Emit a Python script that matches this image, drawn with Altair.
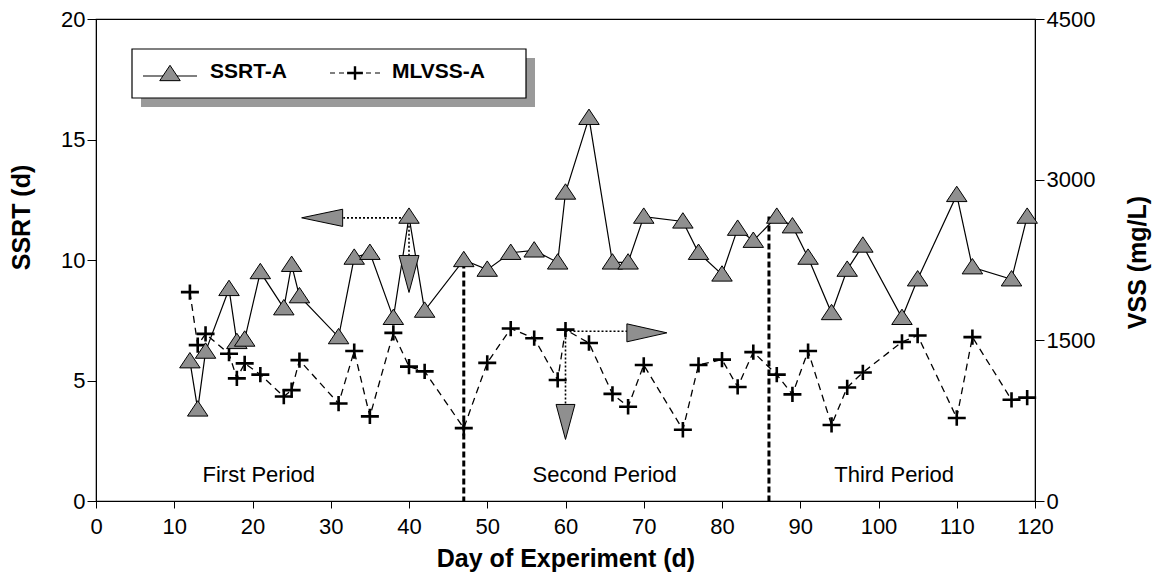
import altair as alt
import pandas as pd

# ---------------- data ----------------
days = [12, 13, 14, 17, 18, 19, 21, 24, 25, 26, 31, 33, 35, 38, 40, 42,
        47, 50, 53, 56, 59, 60, 63, 66, 68, 70, 75, 77, 80, 82, 84,
        87, 89, 91, 94, 96, 98, 103, 105, 110, 112, 117, 119]
ssrt = [5.8, 3.8, 6.2, 8.8, 6.6, 6.7, 9.5, 8.0, 9.8, 8.5, 6.8, 10.1, 10.3, 7.6, 11.8, 7.9,
        10.0, 9.6, 10.3, 10.4, 9.9, 12.8, 15.9, 9.9, 9.9, 11.8, 11.6, 10.3, 9.4, 11.3, 10.8,
        11.8, 11.4, 10.1, 7.8, 9.6, 10.6, 7.6, 9.2, 12.7, 9.7, 9.2, 11.8]
mlvss = [1950, 1455, 1560, 1375, 1145, 1285, 1180, 975, 1035, 1315, 910, 1400, 790, 1570, 1255, 1210,
         680, 1290, 1610, 1520, 1130, 1600, 1475, 1000, 880, 1270, 665, 1270, 1320, 1065, 1390,
         1180, 995, 1400, 710, 1060, 1200, 1485, 1545, 775, 1530, 945, 965]

period_labels = ["First Period", "Second Period", "Third Period"]
period_day = [20.8, 65.0, 102.0]
period_ssrt = [0.8, 0.8, 0.8]

divider_day = [47, 86]
divider_top = [9.9, 11.8]

# dotted arrow guides (SSRT scale)
guide_s_x1 = [40, 40]
guide_s_x2 = [31.6, 40]
guide_s_y1 = [11.75, 11.75]
guide_s_y2 = [11.75, 10.2]
# dotted arrow guides (VSS scale)
guide_v_x1 = [60, 60]
guide_v_x2 = [67.9, 60]
guide_v_y1 = [1585, 1600]
guide_v_y2 = [1585, 900]

# arrow heads
head_s_day = [28.9, 40]
head_s_val = [11.75, 9.42]
head_s_dir = ["left", "down"]
head_v_day = [70.4, 60]
head_v_val = [1570, 738]
head_v_dir = ["right", "down"]

FONT = "Liberation Sans"
TRI_FILL = "#8f8f8f"

df = pd.DataFrame({"day": days, "ssrt": ssrt, "vss": mlvss})
df_period = pd.DataFrame({"day": period_day, "ssrt": period_ssrt, "label": period_labels})
df_div = pd.DataFrame({"day": divider_day, "top": divider_top, "bottom": [0, 0]})
df_gs = pd.DataFrame({"day": guide_s_x1, "day2": guide_s_x2, "ssrt": guide_s_y1, "ssrt2": guide_s_y2})
df_gv = pd.DataFrame({"day": guide_v_x1, "day2": guide_v_x2, "vss": guide_v_y1, "vss2": guide_v_y2})
df_hs = pd.DataFrame({"day": head_s_day, "ssrt": head_s_val, "dir": head_s_dir})
df_hv = pd.DataFrame({"day": head_v_day, "vss": head_v_val, "dir": head_v_dir})
one = pd.DataFrame({"k": [0]})

xscale = alt.Scale(domain=[0, 120], nice=False, zero=False)
xaxis = alt.Axis(values=list(range(0, 121, 10)), title="Day of Experiment (d)", grid=False,
                 labelFont=FONT, labelFontSize=22, labelColor="black", labelPadding=8,
                 titleFont=FONT, titleFontSize=25, titleFontWeight="bold", titleColor="black",
                 titleY=65, titleBaseline="alphabetic", format="d",
                 tickSize=7, tickColor="black", domainColor="black",
                 labelFlush=False, labelOverlap=False)
sscale = alt.Scale(domain=[0, 20], nice=False, zero=True)
saxis = alt.Axis(values=[0, 5, 10, 15, 20], title="SSRT (d)", orient="left", grid=False,
                 labelFont=FONT, labelFontSize=22, labelColor="black", labelPadding=2,
                 titleFont=FONT, titleFontSize=25, titleFontWeight="bold", titleColor="black",
                 titleX=-75, titleY=198, titleBaseline="middle", format="d",
                 tickSize=9, tickColor="black", domainColor="black")
vscale = alt.Scale(domain=[0, 4500], nice=False, zero=True)
vaxis = alt.Axis(values=[0, 1500, 3000, 4500], title="VSS (mg/L)", orient="right", grid=False,
                 labelFont=FONT, labelFontSize=22, labelColor="black", labelPadding=2,
                 titleFont=FONT, titleFontSize=25, titleFontWeight="bold", titleColor="black",
                 titleAngle=270, titleX=102, titleY=243, titleBaseline="middle", format="d",
                 tickSize=9, tickColor="black", domainColor="black")

X = alt.X("day:Q", scale=xscale, axis=xaxis)
YS = alt.Y("ssrt:Q", scale=sscale, axis=None)
YV = alt.Y("vss:Q", scale=vscale, axis=None)

TRI = "M0,-0.85L1,0.65L-1,0.65Z"
CROSS = "M-1,0L1,0M0,-0.85L0,0.85"
DOWN = "M-0.54,-1L0.54,-1L0,1Z"

# ---------- VSS layers ----------
vss_line = alt.Chart(df).mark_line(color="black", strokeWidth=1.3, strokeDash=[7, 5]).encode(
    x=X, y=alt.Y("vss:Q", scale=vscale, axis=vaxis))
vss_pts = alt.Chart(df).mark_point(shape=CROSS, size=324, filled=False, color="black",
                                   strokeWidth=2.6, opacity=1).encode(x=X, y=YV)
vss_guides = alt.Chart(df_gv).mark_rule(color="black", strokeWidth=1.6, strokeDash=[2, 2]).encode(
    x=X, x2="day2:Q", y=YV, y2="vss2:Q")
vss_right = alt.Chart(df_hv[df_hv["dir"] == "right"]).mark_point(
    shape="M1,0L-1,-0.45L-1,0.45Z", size=1600, filled=True, fill=TRI_FILL, stroke="black",
    strokeWidth=1, opacity=1).encode(x=X, y=YV)
vss_down = alt.Chart(df_hv[df_hv["dir"] == "down"]).mark_point(
    shape=DOWN, size=1225, filled=True, fill=TRI_FILL, stroke="black",
    strokeWidth=1, opacity=1).encode(x=X, y=YV)

# ---------- SSRT layers ----------
s_line = alt.Chart(df).mark_line(color="black", strokeWidth=1.2).encode(
    x=X, y=alt.Y("ssrt:Q", scale=sscale, axis=saxis))
s_pts = alt.Chart(df).mark_point(shape=TRI, size=420, filled=True, fill=TRI_FILL, stroke="black",
                                 strokeWidth=1, opacity=1).encode(x=X, y=YS)
s_div = alt.Chart(df_div).mark_rule(color="black", strokeWidth=3, strokeDash=[6, 3]).encode(
    x=X, y=alt.Y("top:Q", scale=sscale, axis=None), y2="bottom:Q")
s_guides = alt.Chart(df_gs).mark_rule(color="black", strokeWidth=1.6, strokeDash=[2, 2]).encode(
    x=X, x2="day2:Q", y=YS, y2="ssrt2:Q")
s_left = alt.Chart(df_hs[df_hs["dir"] == "left"]).mark_point(
    shape="M-1,0L1,-0.42L1,0.42Z", size=1681, filled=True, fill=TRI_FILL, stroke="black",
    strokeWidth=1, opacity=1).encode(x=X, y=YS)
s_down = alt.Chart(df_hs[df_hs["dir"] == "down"]).mark_point(
    shape=DOWN, size=1369, filled=True, fill=TRI_FILL, stroke="black",
    strokeWidth=1, opacity=1).encode(x=X, y=YS)
s_text = alt.Chart(df_period).mark_text(font=FONT, fontSize=22, color="black",
                                        baseline="alphabetic", align="center").encode(
    x=X, y=YS, text="label:N")

# ---------- legend (drawn in pixel space) ----------
leg_shadow = alt.Chart(one).mark_rect(color="#9a9a9a").encode(
    x=alt.value(45), x2=alt.value(439), y=alt.value(39), y2=alt.value(88))
leg_box = alt.Chart(one).mark_rect(fill="white", stroke="black", strokeWidth=1.2).encode(
    x=alt.value(36), x2=alt.value(430), y=alt.value(30), y2=alt.value(79))
leg_l1 = alt.Chart(one).mark_rule(color="black", strokeWidth=1.2).encode(
    x=alt.value(47), x2=alt.value(101), y=alt.value(57))
leg_t1 = alt.Chart(one).mark_point(shape=TRI, size=420, filled=True, fill=TRI_FILL, stroke="black",
                                   strokeWidth=1, opacity=1).encode(x=alt.value(74), y=alt.value(55))
leg_l2 = alt.Chart(one).mark_rule(color="black", strokeWidth=1.2, strokeDash=[5, 4]).encode(
    x=alt.value(234), x2=alt.value(287), y=alt.value(54))
leg_c2 = alt.Chart(one).mark_point(shape=CROSS, size=250, filled=False, color="black",
                                   strokeWidth=2.4, opacity=1).encode(x=alt.value(259), y=alt.value(54))
leg_txt1 = alt.Chart(one).mark_text(text="SSRT-A", font=FONT, fontSize=21, fontWeight="bold",
                                    align="left", baseline="middle", color="black").encode(
    x=alt.value(114), y=alt.value(53))
leg_txt2 = alt.Chart(one).mark_text(text="MLVSS-A", font=FONT, fontSize=21, fontWeight="bold",
                                    align="left", baseline="middle", color="black").encode(
    x=alt.value(296), y=alt.value(53))

chart = alt.layer(
    vss_line, s_line, s_div, vss_guides, s_guides, vss_pts, s_pts,
    vss_right, vss_down, s_left, s_down, s_text,
    leg_shadow, leg_box, leg_l1, leg_t1, leg_l2, leg_c2, leg_txt1, leg_txt2,
).resolve_scale(y="independent").properties(
    width=939, height=482,
    autosize=alt.AutoSizeParams(type="none"),
    padding={"left": 88, "top": 11, "right": 122, "bottom": 75},
).configure_view(stroke="black", strokeWidth=1.2)

chart.save("out.html", embed_options={"renderer": "svg", "actions": False})
